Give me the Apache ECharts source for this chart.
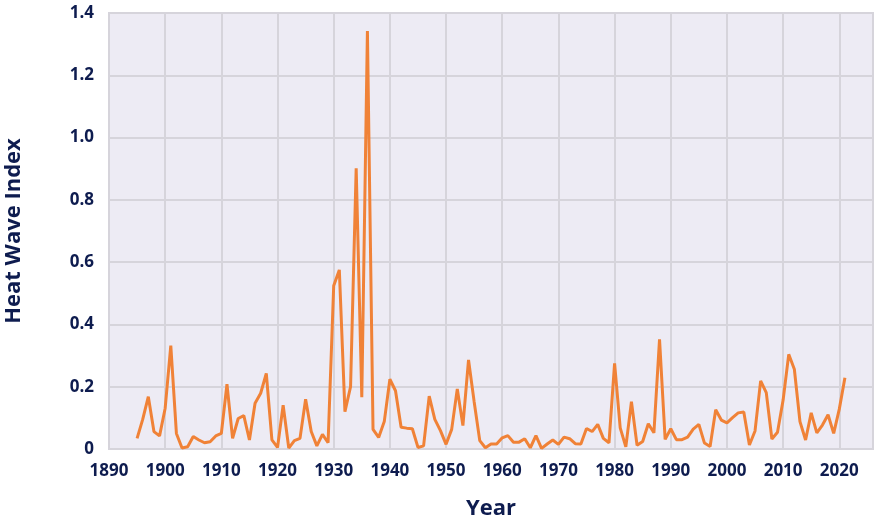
<!DOCTYPE html>
<html>
<head>
<meta charset="utf-8">
<script src="https://cdn.jsdelivr.net/npm/echarts@6/dist/echarts.min.js"></script>
<style>
html,body{margin:0;padding:0;background:#ffffff;}
#chart{width:879px;height:521px;}
</style>
</head>
<body>
<div id="chart"></div>
<script>
var years = [];
for (var y = 1895; y <= 2021; y++) years.push(y);

var heatWaveIndex = [
  0.034, 0.095, 0.168, 0.056, 0.042, 0.131, 0.332, 0.050, 0.003, 0.007,
  0.040, 0.029, 0.020, 0.023, 0.042, 0.050, 0.208, 0.034, 0.098, 0.107,
  0.029, 0.147, 0.179, 0.243, 0.029, 0.005, 0.141, 0.003, 0.027, 0.034,
  0.160, 0.056, 0.010, 0.047, 0.020, 0.524, 0.575, 0.120, 0.200, 0.901,
  0.166, 1.342, 0.063, 0.037, 0.088, 0.224, 0.187, 0.070, 0.067, 0.065,
  0.005, 0.010, 0.170, 0.095, 0.059, 0.015, 0.063, 0.193, 0.075, 0.286,
  0.152, 0.027, 0.004, 0.016, 0.016, 0.036, 0.043, 0.022, 0.022, 0.033,
  0.004, 0.043, 0.002, 0.016, 0.029, 0.015, 0.038, 0.033, 0.017, 0.016,
  0.066, 0.056, 0.079, 0.034, 0.020, 0.275, 0.068, 0.007, 0.152, 0.012,
  0.024, 0.081, 0.052, 0.352, 0.031, 0.065, 0.030, 0.030, 0.038, 0.064,
  0.079, 0.019, 0.008, 0.126, 0.093, 0.084, 0.101, 0.116, 0.119, 0.013,
  0.058, 0.219, 0.181, 0.032, 0.054, 0.157, 0.304, 0.256, 0.088, 0.029,
  0.116, 0.052, 0.077, 0.110, 0.050, 0.128, 0.229
];

var xTicks = [1890, 1900, 1910, 1920, 1930, 1940, 1950, 1960, 1970, 1980, 1990, 2000, 2010, 2020];
var yTicks = [0, 0.2, 0.4, 0.6, 0.8, 1.0, 1.2, 1.4];

var seriesData = years.map(function (yr, i) { return [yr, heatWaveIndex[i]]; });

var navy = '#0e1c4f';
var gridGrey = '#d6d4db';
var fontFam = '"Open Sans", "Noto Sans", sans-serif';

var chart = echarts.init(document.getElementById('chart'), null, {renderer: 'canvas'});
chart.setOption({
  animation: false,
  grid: {
    left: 109, right: 6, top: 13, bottom: 72,
    containLabel: false, outerBoundsMode: 'none',
    show: true, backgroundColor: '#edebf4', borderColor: gridGrey, borderWidth: 2
  },
  xAxis: {
    type: 'value',
    min: xTicks[0], max: 2026, interval: 10,
    name: 'Year', nameLocation: 'middle', nameGap: 49,
    nameTextStyle: {color: navy, fontSize: 22, fontWeight: 'bold', fontFamily: fontFam},
    axisLine: {show: true, lineStyle: {color: gridGrey, width: 2}},
    axisTick: {show: false},
    axisLabel: {
      color: navy, fontSize: 17, fontWeight: 'bold', fontFamily: fontFam, margin: 14,
      showMaxLabel: false,
      formatter: function (v) { return xTicks.indexOf(v) >= 0 ? String(v) : ''; }
    },
    splitLine: {show: true, lineStyle: {color: gridGrey, width: 2}}
  },
  yAxis: {
    type: 'value',
    min: yTicks[0], max: yTicks[yTicks.length - 1], interval: 0.2,
    name: 'Heat Wave Index', nameLocation: 'middle', nameGap: 84, nameRotate: 90,
    nameTextStyle: {color: navy, fontSize: 22, fontWeight: 'bold', fontFamily: fontFam},
    axisLine: {show: true, lineStyle: {color: gridGrey, width: 2}},
    axisTick: {show: false},
    axisLabel: {
      color: navy, fontSize: 17, fontWeight: 'bold', fontFamily: fontFam, margin: 15,
      formatter: function (v) { return v === 0 ? '0' : v.toFixed(1); }
    },
    splitLine: {show: true, lineStyle: {color: gridGrey, width: 2}}
  },
  series: [{
    type: 'line',
    data: seriesData,
    showSymbol: false,
    lineStyle: {color: '#f08237', width: 3},
    itemStyle: {color: '#f08237'}
  }]
});
</script>
</body>
</html>
